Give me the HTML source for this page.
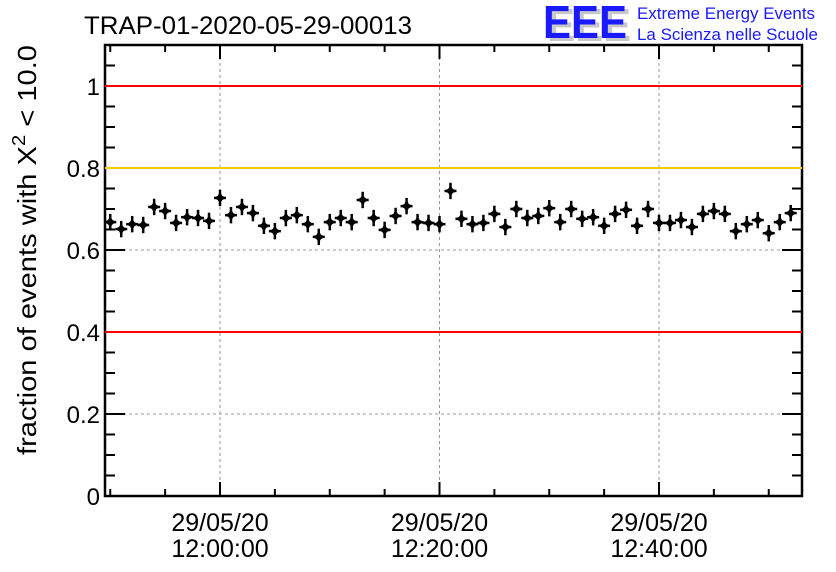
<!DOCTYPE html>
<html><head><meta charset="utf-8"><style>
body{margin:0;background:#fff;}
svg{display:block;font-family:"Liberation Sans",sans-serif;}
</style></head><body>
<svg id="chart" width="836" height="572" viewBox="0 0 836 572">
<text x="84" y="34" font-size="25" textLength="328" lengthAdjust="spacingAndGlyphs">TRAP-01-2020-05-29-00013</text>
<g>
<text x="547" y="41" font-size="46" font-weight="bold" fill="#c8c8c8" textLength="84" lengthAdjust="spacingAndGlyphs">EEE</text>
<text x="543" y="38" font-size="46" font-weight="bold" fill="#1a1aff" textLength="84" lengthAdjust="spacingAndGlyphs">EEE</text>
<text x="637" y="19" font-size="16.5" fill="#1a1aff" textLength="178" lengthAdjust="spacingAndGlyphs">Extreme Energy Events</text>
<text x="637" y="40" font-size="16.5" fill="#1a1aff" textLength="181" lengthAdjust="spacingAndGlyphs">La Scienza nelle Scuole</text>
</g>
<g id="grid"></g>
<g id="axes"></g>
<g id="refs"></g>
<g id="points"></g>
<text transform="translate(36,455) rotate(-90)" font-size="26" textLength="410" lengthAdjust="spacingAndGlyphs">fraction of events with Χ<tspan dy="-11" font-size="18">2</tspan><tspan dy="11"> &lt; 10.0</tspan></text>
</svg>
<script>
const values=[0.668,0.651,0.663,0.661,0.705,0.695,0.666,0.680,0.678,0.671,0.727,0.685,0.705,0.690,0.659,0.646,0.678,0.685,0.663,0.632,0.668,0.678,0.668,0.722,0.678,0.649,0.683,0.707,0.668,0.666,0.663,0.744,0.676,0.663,0.666,0.688,0.656,0.700,0.678,0.683,0.702,0.668,0.700,0.676,0.680,0.659,0.688,0.698,0.659,0.700,0.666,0.666,0.673,0.656,0.688,0.695,0.688,0.646,0.663,0.673,0.641,0.668,0.690];
const startMinute=-10; // minutes relative to 12:00
const errors=0.02;
const yTicks=[0,0.2,0.4,0.6,0.8,1];
const yTickLabels=["0","0.2","0.4","0.6","0.8","1"];
const xTicksMin=[0,20,40];
const xTickLabels=["12:00:00","12:20:00","12:40:00"];
const refLines=[1.0,0.8,0.4];
const refColors=["#ff0000","#ffcc00","#ff0000"];
const L=105,R=802,T=45,B=496;
const X=m=>220+m*10.975;
const Y=v=>496-v*410;
const NS="http://www.w3.org/2000/svg";
function mk(tag,attrs,parent){const e=document.createElementNS(NS,tag);for(const k in attrs)e.setAttribute(k,attrs[k]);parent.appendChild(e);return e;}
const grid=document.getElementById('grid'),refs=document.getElementById('refs'),pts=document.getElementById('points'),axes=document.getElementById('axes');
yTicks.forEach((v,i)=>{
 if(v>0&&v<1){const g=mk('line',{x1:L,x2:R,y1:Y(v),y2:Y(v),stroke:'#999','stroke-dasharray':'3,3'},grid);
 
 }
 const t=mk('text',{x:L-5,y:Y(v)+9,'font-size':24,'text-anchor':'end'},axes);t.textContent=yTickLabels[i];
 
 
});
xTicksMin.forEach((m,i)=>{
 const g=mk('line',{x1:X(m),x2:X(m),y1:T,y2:B,stroke:'#999','stroke-dasharray':'3,3'},grid);
 
 
 const t1=mk('text',{x:X(m),y:531,'font-size':25,'text-anchor':'middle'},axes);t1.textContent="29/05/20";
 
 
 const t2=mk('text',{x:X(m),y:557,'font-size':25,'text-anchor':'middle'},axes);t2.textContent=xTickLabels[i];
 
 
});
refLines.forEach((v,i)=>{const l=mk('line',{x1:L,x2:R,y1:Y(v),y2:Y(v),stroke:refColors[i],'stroke-width':2},refs);
 
 });
values.forEach((v,i)=>{
 const x=X(startMinute+i),y=Y(v);
 const g=mk('g',{},pts);
 
 
 mk('line',{x1:x,x2:x,y1:Y(v+errors),y2:Y(v-errors),stroke:'#000','stroke-width':2.5},g);
 mk('line',{x1:x-6,x2:x+6,y1:y,y2:y,stroke:'#000','stroke-width':2.5},g);
 mk('path',{d:`M${x} ${y-6}L${x+2.2} ${y-2.2}L${x+6} ${y}L${x+2.2} ${y+2.2}L${x} ${y+6}L${x-2.2} ${y+2.2}L${x-6} ${y}L${x-2.2} ${y-2.2}Z`,fill:'#000'},g);
});
mk('rect',{x:L,y:T,width:R-L,height:B-T,fill:'none',stroke:'#000','stroke-width':2.5},axes);
for(let v=0;v<=1.1001;v+=0.05){const major=Math.abs(v/0.2-Math.round(v/0.2))<1e-6;
 const len=major?20:10;
 mk('line',{x1:L,x2:L+len,y1:Y(v),y2:Y(v),stroke:'#000','stroke-width':2},axes);
 mk('line',{x1:R,x2:R-len,y1:Y(v),y2:Y(v),stroke:'#000','stroke-width':2},axes);}
for(let m=-10;m<=50;m+=5){const major=m%20===0;const len=major?14:7;
 mk('line',{x1:X(m),x2:X(m),y1:B,y2:B-len,stroke:'#000','stroke-width':2},axes);
 mk('line',{x1:X(m),x2:X(m),y1:T,y2:T+len,stroke:'#000','stroke-width':2},axes);}
</script>
</body></html>
